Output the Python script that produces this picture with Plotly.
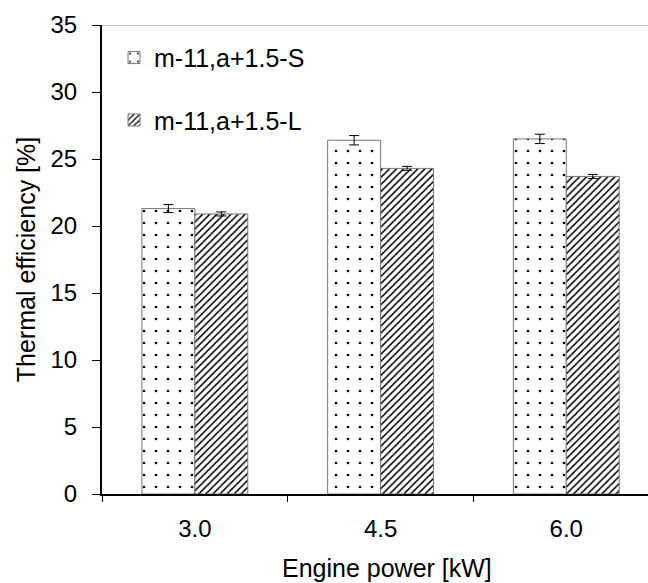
import plotly.graph_objects as go

categories = ["3.0", "4.5", "6.0"]
s_values = [21.3, 26.4, 26.5]
s_err = [0.3, 0.35, 0.35]
l_values = [20.9, 24.3, 23.7]
l_err = [0.15, 0.15, 0.15]
series_names = ["m-11,a+1.5-S", "m-11,a+1.5-L"]
x_title = "Engine power [kW]"
y_title = "Thermal efficiency [%]"

font = "Liberation Sans, Arial, sans-serif"

fig = go.Figure()
fig.add_trace(go.Bar(
    x=categories, y=s_values, name=series_names[0], legend="legend", showlegend=True,
    marker=dict(color="white", line=dict(color="#777777", width=1),
                pattern=dict(shape=".", fgcolor="black", fgopacity=1, bgcolor="white",
                             size=12, solidity=0.04)),
    error_y=dict(type="data", array=s_err, color="black", thickness=1, width=5),
))
fig.add_trace(go.Bar(
    x=categories, y=l_values, name=series_names[1], legend="legend2", showlegend=True,
    marker=dict(color="white", line=dict(color="#777777", width=1),
                pattern=dict(shape="/", fgcolor="black", fgopacity=1, bgcolor="white",
                             size=5, solidity=0.3)),
    error_y=dict(type="data", array=l_err, color="black", thickness=1, width=5),
))

fig.add_shape(type="line", xref="paper", yref="y", x0=0, x1=1, y0=35, y1=35,
              line=dict(color="#888888", width=1), layer="above")

fig.add_annotation(text=x_title, xref="paper", yref="paper", x=0.522, y=-0.157,
                   xanchor="center", yanchor="middle", showarrow=False,
                   font=dict(size=25, family=font, color="black"))

fig.update_layout(
    width=648, height=583,
    margin=dict(l=102, r=0, t=25, b=89),
    paper_bgcolor="white", plot_bgcolor="white",
    font=dict(family=font, size=24, color="black"),
    barmode="group", bargap=0.43, bargroupgap=0,
    showlegend=True,
    legend=dict(x=0.022, y=0.93, xanchor="left", yanchor="middle", bgcolor="rgba(0,0,0,0)",
                font=dict(size=25), itemwidth=30),
    legend2=dict(x=0.022, y=0.797, xanchor="left", yanchor="middle", bgcolor="rgba(0,0,0,0)",
                 font=dict(size=25), itemwidth=30),
    xaxis=dict(type="category", range=[-0.5, 2.44], showline=True, linecolor="black", linewidth=2,
               ticks="outside", tickson="boundaries", ticklen=6, tickcolor="black",
               ticklabelstandoff=12, showgrid=False, tickfont=dict(size=24)),
    yaxis=dict(range=[0, 35], dtick=5, showline=True, linecolor="black", linewidth=2,
               ticks="outside", ticklen=8, tickcolor="black", showgrid=False, zeroline=False,
               ticklabelstandoff=10,
               title=dict(text=y_title, standoff=8, font=dict(size=25)),
               tickfont=dict(size=24)),
)

fig.write_html("out.html")
